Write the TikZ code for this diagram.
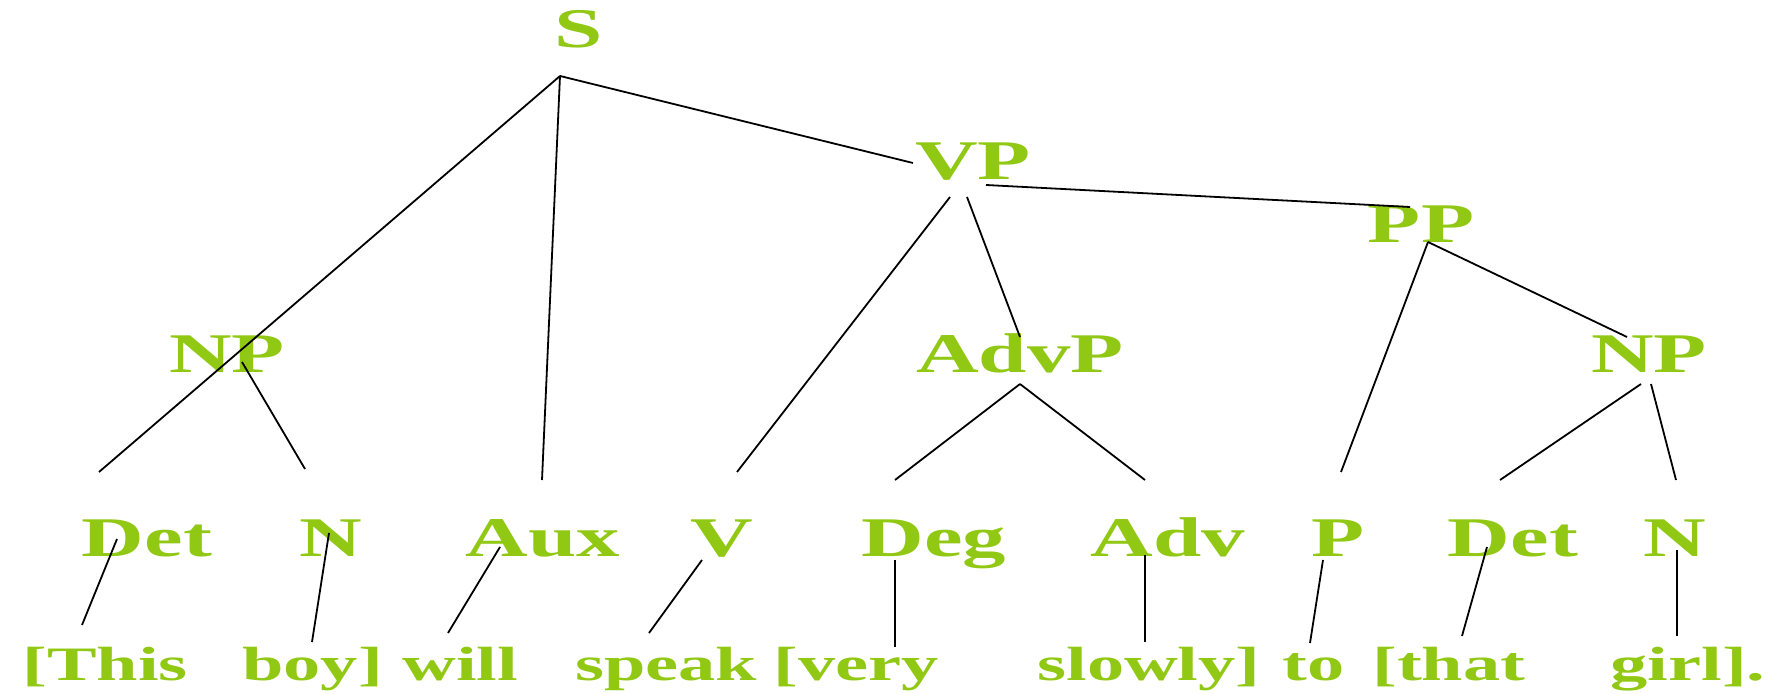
\documentclass[tikz,border=0pt]{standalone}
\usepackage{fontspec}
\setmainfont{Liberation Serif}
\definecolor{leaf}{RGB}{145,200,20}
% wide lettering: the labels are set horizontally stretched
\newcommand{\widetext}[1]{\scalebox{1.55}[1]{#1}}
\begin{document}
\begin{tikzpicture}[x=0.5pt,y=-0.5pt,
  cat/.style={text=leaf, font=\bfseries\fontsize{28}{30}\selectfont, inner sep=0pt, anchor=base},
  word/.style={text=leaf, font=\bfseries\fontsize{24}{26}\selectfont, inner sep=0pt, anchor=base west},
  branch/.style={draw=black, line width=0.9pt}]
\useasboundingbox (0,0) rectangle (1772,694);

% phrase labels
\node[cat] (S)    at (579,48)  {\widetext{S}};
\node[cat] (VP)   at (973,180) {\widetext{VP}};
\node[cat] (PP)   at (1421,243) {\widetext{PP}};
\node[cat] (NPa)  at (227,373) {\widetext{NP}};
\node[cat] (AdvP) at (1020,373) {\widetext{AdvP}};
\node[cat] (NPb)  at (1649,373) {\widetext{NP}};

% word categories
\node[cat] (Det1) at (147,557)  {\widetext{Det}};
\node[cat] (N1)   at (331,557)  {\widetext{N}};
\node[cat] (Aux)  at (543,557)  {\widetext{Aux}};
\node[cat] (V)    at (722,557)  {\widetext{V}};
\node[cat] (Deg)  at (934,557)  {\widetext{Deg}};
\node[cat] (Adv)  at (1168,557) {\widetext{Adv}};
\node[cat] (P)    at (1338,557) {\widetext{P}};
\node[cat] (Det2) at (1513,557) {\widetext{Det}};
\node[cat] (N2)   at (1675,557) {\widetext{N}};

% the sentence
\node[word] (wThis)   at (22,680)   {\widetext{[This}};
\node[word] (wBoy)    at (242,680)  {\widetext{boy]}};
\node[word] (wWill)   at (402,680)  {\widetext{will}};
\node[word] (wSpeak)  at (575,680)  {\widetext{speak}};
\node[word] (wVery)   at (773,680)  {\widetext{[very}};
\node[word] (wSlowly) at (1037,680) {\widetext{slowly]}};
\node[word] (wTo)     at (1282,680) {\widetext{to}};
\node[word] (wThat)   at (1372,680) {\widetext{[that}};
\node[word] (wGirl)   at (1610,680) {\widetext{girl].}};

% branch end points
\coordinate (S-f)    at (560,76);
\coordinate (NPa-h)  at (99,472);
\coordinate (Aux-h)  at (542,480);
\coordinate (VP-h)   at (913,163);
\coordinate (VP-r)   at (986,185);
\coordinate (PP-h)   at (1410,207);
\coordinate (VP-fl)  at (950,197);
\coordinate (VP-fr)  at (967,197);
\coordinate (V-h)    at (737,472);
\coordinate (AdvP-h) at (1020,337);
\coordinate (PP-f)   at (1428,242);
\coordinate (P-h)    at (1341,472);
\coordinate (NPb-h)  at (1627,337);
\coordinate (NPa-f)  at (242,362);
\coordinate (N1-h)   at (305,469);
\coordinate (AdvP-f) at (1020,384);
\coordinate (Deg-h)  at (895,480);
\coordinate (Adv-h)  at (1145,480);
\coordinate (NPb-fl) at (1641,384);
\coordinate (NPb-fr) at (1651,384);
\coordinate (Det2-h) at (1500,480);
\coordinate (N2-h)   at (1676,480);

\coordinate (Det1-f) at (117,539);
\coordinate (This-h) at (82,625);
\coordinate (N1-f)   at (329,533);
\coordinate (Boy-h)  at (312,642);
\coordinate (Aux-f)  at (500,547);
\coordinate (Will-h) at (448,633);
\coordinate (V-f)    at (702,560);
\coordinate (Speak-h) at (649,633);
\coordinate (Deg-f)  at (895,560);
\coordinate (Very-h) at (895,647);
\coordinate (Adv-f)  at (1145,555);
\coordinate (Slowly-h) at (1145,642);
\coordinate (P-f)    at (1323,560);
\coordinate (To-h)   at (1310,643);
\coordinate (Det2-f) at (1487,547);
\coordinate (That-h) at (1462,636);
\coordinate (N2-f)   at (1677,550);
\coordinate (Girl-h) at (1677,636);

% tree branches
\draw[branch] (S-f) -- (NPa-h);
\draw[branch] (S-f) -- (Aux-h);
\draw[branch] (S-f) -- (VP-h);
\draw[branch] (VP-r) -- (PP-h);
\draw[branch] (VP-fl) -- (V-h);
\draw[branch] (VP-fr) -- (AdvP-h);
\draw[branch] (PP-f) -- (P-h);
\draw[branch] (PP-f) -- (NPb-h);
\draw[branch] (NPa-f) -- (N1-h);
\draw[branch] (AdvP-f) -- (Deg-h);
\draw[branch] (AdvP-f) -- (Adv-h);
\draw[branch] (NPb-fl) -- (Det2-h);
\draw[branch] (NPb-fr) -- (N2-h);

% lexical links
\draw[branch] (Det1-f) -- (This-h);
\draw[branch] (N1-f) -- (Boy-h);
\draw[branch] (Aux-f) -- (Will-h);
\draw[branch] (V-f) -- (Speak-h);
\draw[branch] (Deg-f) -- (Very-h);
\draw[branch] (Adv-f) -- (Slowly-h);
\draw[branch] (P-f) -- (To-h);
\draw[branch] (Det2-f) -- (That-h);
\draw[branch] (N2-f) -- (Girl-h);
\end{tikzpicture}
\end{document}
